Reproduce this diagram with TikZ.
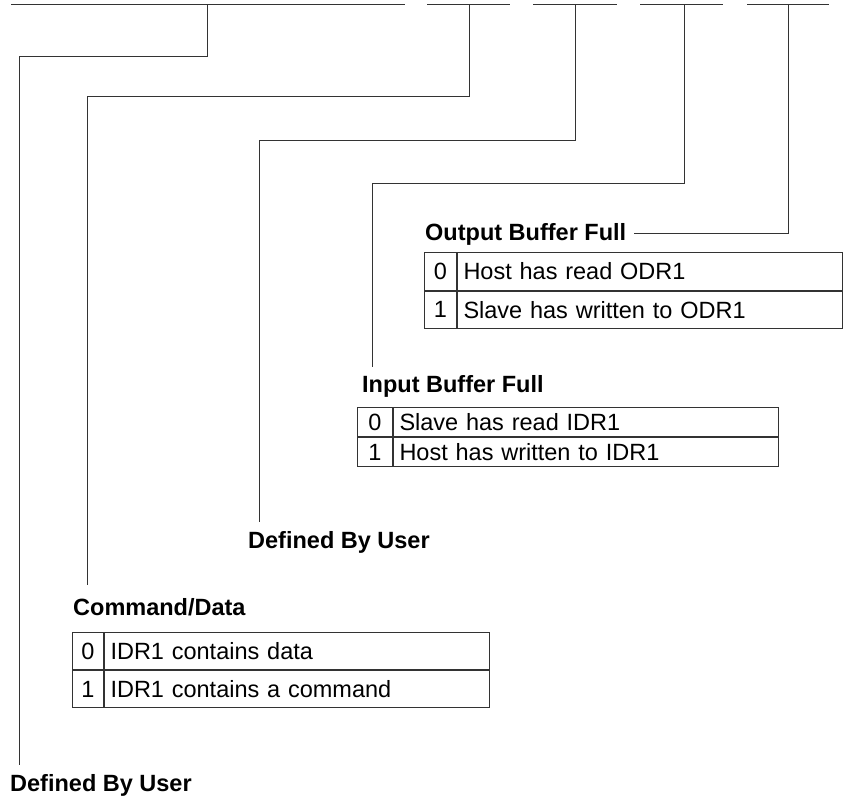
\documentclass[tikz,border=0pt]{standalone}
\usepackage{fontspec}
\setmainfont{Liberation Sans}
\begin{document}
\begin{tikzpicture}[x=1pt,y=-1pt,
  ln/.style={draw=black!80, line width=1pt},
  ttl/.style={font=\fontsize{23.5}{28}\selectfont\bfseries, inner sep=0pt, anchor=base west},
  numc/.style={draw=black!80, line width=1pt, minimum width=33pt, minimum height=#1, inner sep=0pt, anchor=north west, font=\fontsize{23.5}{28}\selectfont},
  txtc/.style={draw=black!80, line width=1pt, minimum width=385pt, minimum height=#1, inner xsep=6pt, inner ysep=0pt, text width=373pt, align=left, anchor=north west, font=\fontsize{23.5}{28}\selectfont}]
\useasboundingbox (0,0) rectangle (845,797);

% top bit-field segments
\coordinate (a1) at (11,5);  \coordinate (b1) at (405,5);
\coordinate (a2) at (427,5); \coordinate (b2) at (510,5);
\coordinate (a3) at (533,5); \coordinate (b3) at (617,5);
\coordinate (a4) at (640,5); \coordinate (b4) at (723,5);
\coordinate (a5) at (747,5); \coordinate (b5) at (829,5);
\foreach \i in {1,...,5} { \draw[ln] (a\i) -- (b\i); }

% Output Buffer Full
\node[ttl] (obf) at (425,240) {Output Buffer Full};
\node[numc=37.5pt, minimum width=32pt] (o0) at (424,252) {0};
\node[txtc=37.5pt] (o0t) at (o0.north east) {Host has read ODR1};
\node[numc=37.5pt, minimum width=32pt] (o1) at (o0.south west) {1};
\node[txtc=37.5pt] (o1t) at (o1.north east) {Slave has written to ODR1};

% Input Buffer Full
\node[ttl] (ibf) at (362,392) {Input Buffer Full};
\node[numc=29pt, minimum width=35pt] (i0) at (357,407) {0};
\node[txtc=29pt] (i0t) at (i0.north east) {Slave has read IDR1};
\node[numc=29pt, minimum width=35pt] (i1) at (i0.south west) {1};
\node[txtc=29pt] (i1t) at (i1.north east) {Host has written to IDR1};

% Defined By User (middle)
\node[ttl] (dbu2) at (248,548) {Defined By User};

% Command/Data
\node[ttl] (cmd) at (73,615) {Command/Data};
\node[numc=37pt, minimum width=31pt] (c0) at (72,632) {0};
\node[txtc=37pt] (c0t) at (c0.north east) {IDR1 contains data};
\node[numc=37pt, minimum width=31pt] (c1) at (c0.south west) {1};
\node[txtc=37pt] (c1t) at (c1.north east) {IDR1 contains a command};

% Defined By User (bottom)
\node[ttl] (dbu1) at (10,791) {Defined By User};

% connectors
\coordinate (t1) at (207,5); \coordinate (k1) at (19,57);  \coordinate (e1) at (19,765);
\coordinate (t2) at (469,5); \coordinate (k2) at (87,97);  \coordinate (e2) at (87,585);
\coordinate (t3) at (575,5); \coordinate (k3) at (259,140); \coordinate (e3) at (259,522);
\coordinate (t4) at (684,5); \coordinate (k4) at (372,183); \coordinate (e4) at (372,367);
\coordinate (t5) at (788,5); \coordinate (e5) at ([xshift=8pt]obf.east);
\draw[ln] (t1) |- (k1) -- (e1);
\draw[ln] (t2) |- (k2) -- (e2);
\draw[ln] (t3) |- (k3) -- (e3);
\draw[ln] (t4) |- (k4) -- (e4);
\draw[ln] (t5) |- (e5);
\end{tikzpicture}
\end{document}
